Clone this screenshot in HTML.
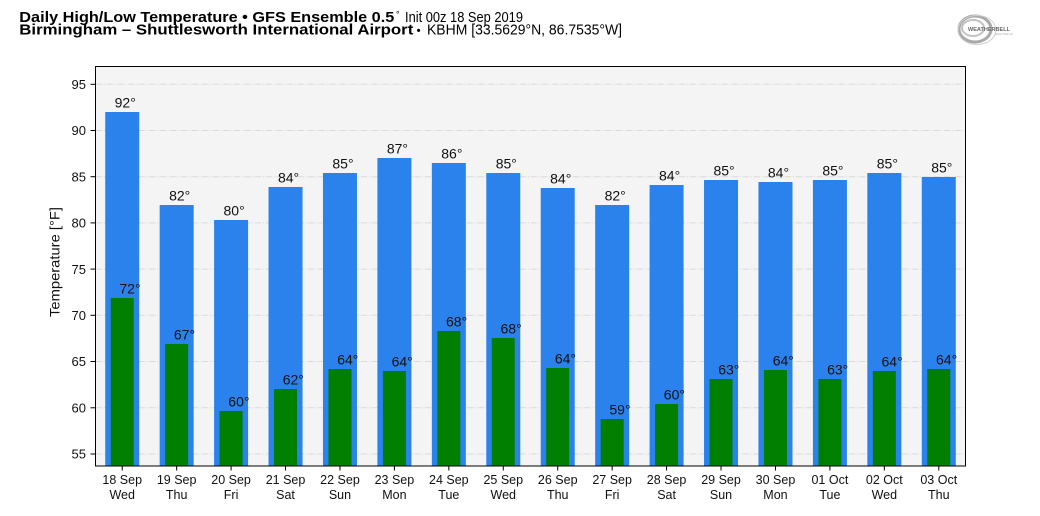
<!DOCTYPE html>
<html>
<head>
<meta charset="utf-8">
<style>
html,body{margin:0;padding:0;background:#fff;}
svg{display:block;font-family:"Liberation Sans",sans-serif;}
</style>
</head>
<body>
<svg width="1040" height="516" viewBox="0 0 1040 516" xmlns="http://www.w3.org/2000/svg">
<rect x="0" y="0" width="1040" height="516" fill="#fff"/>

<!-- Title -->
<text x="19.3" y="22" font-size="15" font-weight="bold" fill="#000" textLength="375" lengthAdjust="spacingAndGlyphs">Daily High/Low Temperature • GFS Ensemble 0.5</text>
<text x="396" y="17.5" font-size="9" fill="#000">°</text>
<text x="405" y="22" font-size="14.5" fill="#000" textLength="118" lengthAdjust="spacingAndGlyphs">Init 00z 18 Sep 2019</text>
<text x="19.3" y="34.5" font-size="15" font-weight="bold" fill="#000" textLength="394" lengthAdjust="spacingAndGlyphs">Birmingham – Shuttlesworth International Airport</text>
<text x="416.5" y="34.5" font-size="12" fill="#000">•</text>
<text x="427" y="34.5" font-size="14.5" fill="#000" textLength="195" lengthAdjust="spacingAndGlyphs">KBHM [33.5629°N, 86.7535°W]</text>

<!-- Logo -->
<g fill="none">
<ellipse cx="975" cy="29" rx="16" ry="13" stroke-width="3" stroke="#a9a9a9"/>
<ellipse cx="973" cy="28" rx="11" ry="8" stroke-width="2" stroke="#c2c2c2"/>
<ellipse cx="977" cy="30" rx="19" ry="14.5" stroke-width="1" stroke="#cfcfcf"/>
</g>
<text x="968" y="31" font-size="5.5" font-weight="bold" fill="#666" textLength="42" lengthAdjust="spacingAndGlyphs">WEATHERBELL</text>
<text x="995" y="35" font-size="3" fill="#999" textLength="18" lengthAdjust="spacingAndGlyphs">ANALYTICS LLC</text>

<!-- Axes background -->
<rect x="95" y="66" width="871" height="400" fill="#f4f4f4"/>

<!-- Gridlines -->
<g stroke="#dadada" stroke-width="1" stroke-dasharray="6.4,1.6,1,1.6">
<line x1="96" x2="965" y1="84.3" y2="84.3"/>
<line x1="96" x2="965" y1="130.5" y2="130.5"/>
<line x1="96" x2="965" y1="176.7" y2="176.7"/>
<line x1="96" x2="965" y1="222.9" y2="222.9"/>
<line x1="96" x2="965" y1="269.1" y2="269.1"/>
<line x1="96" x2="965" y1="315.3" y2="315.3"/>
<line x1="96" x2="965" y1="361.5" y2="361.5"/>
<line x1="96" x2="965" y1="407.8" y2="407.8"/>
<line x1="96" x2="965" y1="454.0" y2="454.0"/>
</g>

<!-- High bars -->
<g fill="#2b82ec">
<rect x="105.22" y="112" width="34" height="354"/>
<rect x="159.66" y="205" width="34" height="261"/>
<rect x="214.09" y="220" width="34" height="246"/>
<rect x="268.53" y="187" width="34" height="279"/>
<rect x="322.97" y="173" width="34" height="293"/>
<rect x="377.41" y="158" width="34" height="308"/>
<rect x="431.84" y="163" width="34" height="303"/>
<rect x="486.28" y="173" width="34" height="293"/>
<rect x="540.72" y="188" width="34" height="278"/>
<rect x="595.16" y="205" width="34" height="261"/>
<rect x="649.59" y="185" width="34" height="281"/>
<rect x="704.03" y="180" width="34" height="286"/>
<rect x="758.47" y="182" width="34" height="284"/>
<rect x="812.91" y="180" width="34" height="286"/>
<rect x="867.34" y="173" width="34" height="293"/>
<rect x="921.78" y="177" width="34" height="289"/>
</g>

<!-- Low bars -->
<g fill="#007f00">
<rect x="110.72" y="298" width="23" height="168"/>
<rect x="165.16" y="344" width="23" height="122"/>
<rect x="219.59" y="411" width="23" height="55"/>
<rect x="274.03" y="389" width="23" height="77"/>
<rect x="328.47" y="369" width="23" height="97"/>
<rect x="382.91" y="371" width="23" height="95"/>
<rect x="437.34" y="331" width="23" height="135"/>
<rect x="491.78" y="338" width="23" height="128"/>
<rect x="546.22" y="368" width="23" height="98"/>
<rect x="600.66" y="419" width="23" height="47"/>
<rect x="655.09" y="404" width="23" height="62"/>
<rect x="709.53" y="379" width="23" height="87"/>
<rect x="763.97" y="370" width="23" height="96"/>
<rect x="818.41" y="379" width="23" height="87"/>
<rect x="872.84" y="371" width="23" height="95"/>
<rect x="927.28" y="369" width="23" height="97"/>
</g>

<!-- High labels -->
<g font-size="14" fill="#111" text-anchor="middle">
<text x="125.22" y="107.5">92°</text>
<text x="179.66" y="200.5">82°</text>
<text x="234.09" y="215.5">80°</text>
<text x="288.53" y="182.5">84°</text>
<text x="342.97" y="168.5">85°</text>
<text x="397.41" y="153.5">87°</text>
<text x="451.84" y="158.5">86°</text>
<text x="506.28" y="168.5">85°</text>
<text x="560.72" y="183.5">84°</text>
<text x="615.16" y="200.5">82°</text>
<text x="669.59" y="180.5">84°</text>
<text x="724.03" y="175.5">85°</text>
<text x="778.47" y="177.5">84°</text>
<text x="832.91" y="175.5">85°</text>
<text x="887.34" y="168.5">85°</text>
<text x="941.78" y="172.5">85°</text>
</g>

<!-- Low labels -->
<g font-size="14" fill="#111" text-anchor="start">
<text x="119.4" y="293.5">72°</text>
<text x="173.9" y="339.5">67°</text>
<text x="228.3" y="406.5">60°</text>
<text x="282.7" y="384.5">62°</text>
<text x="337.2" y="364.5">64°</text>
<text x="391.6" y="366.5">64°</text>
<text x="446.0" y="326.5">68°</text>
<text x="500.5" y="333.5">68°</text>
<text x="554.9" y="363.5">64°</text>
<text x="609.4" y="414.5">59°</text>
<text x="663.8" y="399.5">60°</text>
<text x="718.2" y="374.5">63°</text>
<text x="772.7" y="365.5">64°</text>
<text x="827.1" y="374.5">63°</text>
<text x="881.5" y="366.5">64°</text>
<text x="936.0" y="364.5">64°</text>
</g>

<!-- Frame -->
<rect x="95.5" y="66.5" width="870" height="399.5" fill="none" stroke="#000" stroke-width="1"/>

<!-- Y ticks -->
<g stroke="#000" stroke-width="1">
<line x1="90.5" x2="95" y1="84.3" y2="84.3"/>
<line x1="90.5" x2="95" y1="130.5" y2="130.5"/>
<line x1="90.5" x2="95" y1="176.7" y2="176.7"/>
<line x1="90.5" x2="95" y1="222.9" y2="222.9"/>
<line x1="90.5" x2="95" y1="269.1" y2="269.1"/>
<line x1="90.5" x2="95" y1="315.3" y2="315.3"/>
<line x1="90.5" x2="95" y1="361.5" y2="361.5"/>
<line x1="90.5" x2="95" y1="407.8" y2="407.8"/>
<line x1="90.5" x2="95" y1="454.0" y2="454.0"/>
</g>
<g font-size="13" fill="#111" text-anchor="end">
<text x="86" y="89">95</text>
<text x="86" y="135.2">90</text>
<text x="86" y="181.4">85</text>
<text x="86" y="227.6">80</text>
<text x="86" y="273.8">75</text>
<text x="86" y="320">70</text>
<text x="86" y="366.2">65</text>
<text x="86" y="412.5">60</text>
<text x="86" y="458.7">55</text>
</g>

<!-- Y axis title -->
<text transform="translate(59.5,262) rotate(-90)" font-size="14" fill="#111" text-anchor="middle" textLength="110" lengthAdjust="spacingAndGlyphs">Temperature [°F]</text>

<!-- X ticks -->
<g stroke="#000" stroke-width="1">
<line x1="122.22" x2="122.22" y1="466" y2="470.5"/>
<line x1="176.66" x2="176.66" y1="466" y2="470.5"/>
<line x1="231.09" x2="231.09" y1="466" y2="470.5"/>
<line x1="285.53" x2="285.53" y1="466" y2="470.5"/>
<line x1="339.97" x2="339.97" y1="466" y2="470.5"/>
<line x1="394.41" x2="394.41" y1="466" y2="470.5"/>
<line x1="448.84" x2="448.84" y1="466" y2="470.5"/>
<line x1="503.28" x2="503.28" y1="466" y2="470.5"/>
<line x1="557.72" x2="557.72" y1="466" y2="470.5"/>
<line x1="612.16" x2="612.16" y1="466" y2="470.5"/>
<line x1="666.59" x2="666.59" y1="466" y2="470.5"/>
<line x1="721.03" x2="721.03" y1="466" y2="470.5"/>
<line x1="775.47" x2="775.47" y1="466" y2="470.5"/>
<line x1="829.91" x2="829.91" y1="466" y2="470.5"/>
<line x1="884.34" x2="884.34" y1="466" y2="470.5"/>
<line x1="938.78" x2="938.78" y1="466" y2="470.5"/>
</g>
<g font-size="12.5" fill="#111" text-anchor="middle">
<text x="122.22" y="484">18 Sep</text><text x="122.22" y="499">Wed</text>
<text x="176.66" y="484">19 Sep</text><text x="176.66" y="499">Thu</text>
<text x="231.09" y="484">20 Sep</text><text x="231.09" y="499">Fri</text>
<text x="285.53" y="484">21 Sep</text><text x="285.53" y="499">Sat</text>
<text x="339.97" y="484">22 Sep</text><text x="339.97" y="499">Sun</text>
<text x="394.41" y="484">23 Sep</text><text x="394.41" y="499">Mon</text>
<text x="448.84" y="484">24 Sep</text><text x="448.84" y="499">Tue</text>
<text x="503.28" y="484">25 Sep</text><text x="503.28" y="499">Wed</text>
<text x="557.72" y="484">26 Sep</text><text x="557.72" y="499">Thu</text>
<text x="612.16" y="484">27 Sep</text><text x="612.16" y="499">Fri</text>
<text x="666.59" y="484">28 Sep</text><text x="666.59" y="499">Sat</text>
<text x="721.03" y="484">29 Sep</text><text x="721.03" y="499">Sun</text>
<text x="775.47" y="484">30 Sep</text><text x="775.47" y="499">Mon</text>
<text x="829.91" y="484">01 Oct</text><text x="829.91" y="499">Tue</text>
<text x="884.34" y="484">02 Oct</text><text x="884.34" y="499">Wed</text>
<text x="938.78" y="484">03 Oct</text><text x="938.78" y="499">Thu</text>
</g>
</svg>
</body>
</html>
